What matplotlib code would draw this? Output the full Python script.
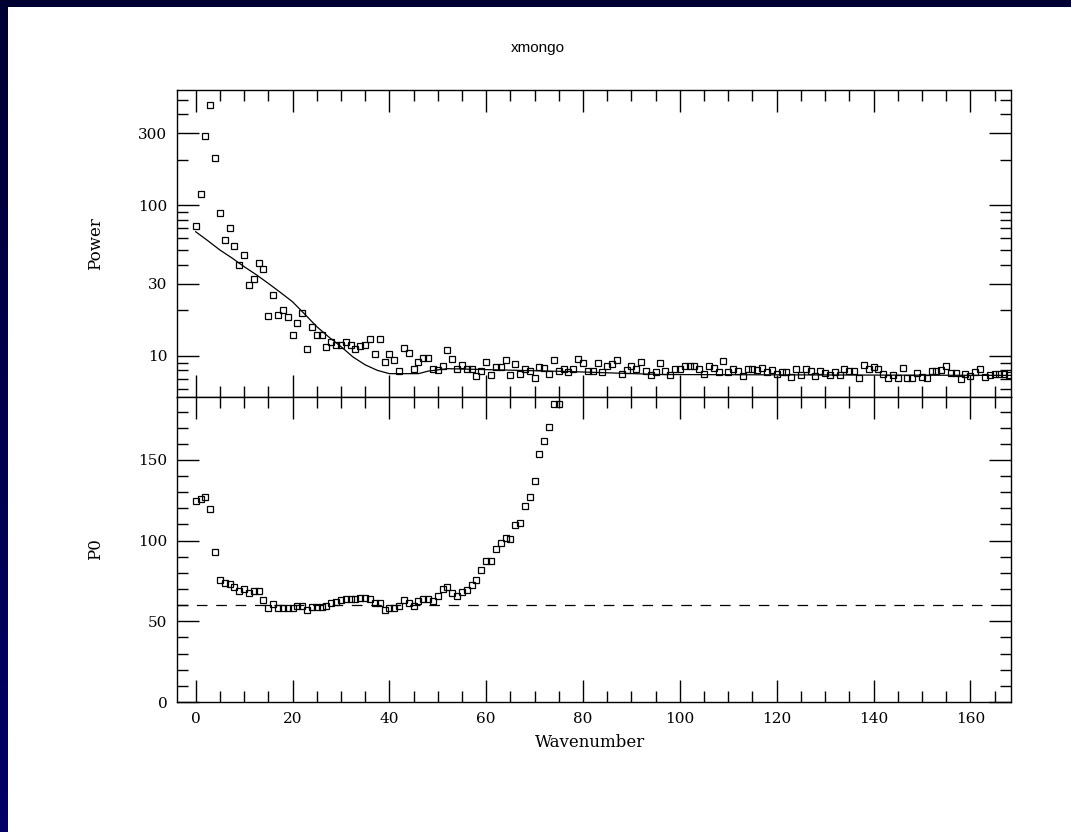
import numpy as np
import matplotlib
matplotlib.use("Agg")
import matplotlib.pyplot as plt
from matplotlib.ticker import FixedLocator, FixedFormatter, NullFormatter

# power spectrum, one value per wavenumber 0..168
power = [
    72.6, 118, 287, 461, 206, 89, 58.6, 70, 53.5, 39.8,
    46.6, 29.6, 32.1, 41.2, 37.4, 18.4, 25.3, 18.7, 20.1, 18.1,
    13.7, 16.4, 19.3, 11.1, 15.4, 13.7, 13.7, 11.5, 12.4, 11.8,
    11.8, 12.4, 11.8, 11.1, 11.6, 11.8, 13.0, 10.3, 13.0, 9.1,
    10.2, 9.3, 7.9, 11.3, 10.5, 8.2, 9.1, 9.6, 9.6, 8.2,
    8.0, 8.6, 10.9, 9.45, 8.2, 8.7, 8.15, 8.2, 7.3, 7.95,
    9.1, 7.5, 8.4, 8.4, 9.4, 7.4, 8.8, 7.6, 8.2, 7.95,
    7.1, 8.45, 8.3, 7.6, 9.4, 7.9, 8.1, 7.8, 8.1, 9.45,
    8.9, 7.95, 7.95, 8.9, 7.8, 8.6, 8.8, 9.3, 7.55, 8.0,
    8.5, 8.2, 9.1, 7.95, 7.45, 7.8, 8.9, 7.95, 7.45, 8.2,
    8.2, 8.6, 8.6, 8.6, 8.1, 7.6, 8.6, 8.3, 7.8, 9.2,
    7.8, 8.2, 7.95, 7.3, 8.1, 8.2, 8.0, 8.3, 7.8, 8.0,
    7.6, 7.8, 7.8, 7.25, 8.1, 7.5, 8.2, 7.95, 7.3, 7.95,
    7.7, 7.5, 7.8, 7.5, 8.1, 7.95, 7.95, 7.15, 8.7, 8.1,
    8.4, 8.2, 7.55, 7.15, 7.5, 7.15, 8.3, 7.15, 7.15, 7.7,
    7.25, 7.15, 7.95, 7.95, 8.0, 8.5, 7.7, 7.7, 7.05, 7.6,
    7.3, 7.8, 8.2, 7.2, 7.45, 7.55, 7.55, 7.55, 7.5,
]
wn_power = np.arange(len(power))

# model curve
fit_wn = [0, 2.5, 5, 7.5, 10, 12.5, 15, 17.5, 20, 22.5, 25, 27.5, 30, 32.5,
          35, 37.5, 40, 46, 48, 52, 77, 96, 130, 168.4]
fit_power = [66.5, 58, 50.3, 44.5, 39, 34.5, 30.2, 26.3, 22.8, 18.9, 15.6, 13.3,
             11.5, 9.8, 8.7, 8.0, 7.6, 7.6, 7.9, 8.2, 7.85, 7.5, 7.45, 7.4]

# P0 per wavenumber 0..75 (rest is off scale)
p0 = [
    124.8, 125.7, 127.3, 119.5, 93.0, 75.6, 73.5, 73.1, 71.0, 68.9,
    69.8, 67.3, 68.9, 68.9, 63.1, 58.4, 60.5, 58.0, 58.0, 58.0,
    58.0, 59.4, 59.4, 56.9, 59.0, 59.0, 59.0, 59.4, 61.5, 62.1,
    63.1, 63.6, 63.6, 63.6, 64.2, 64.2, 63.6, 61.1, 61.5, 56.9,
    58.4, 58.4, 59.4, 63.1, 61.5, 59.4, 62.5, 63.6, 63.6, 62.7,
    65.8, 69.8, 71.4, 67.3, 65.8, 68.3, 69.4, 72.5, 75.6, 81.8,
    87.4, 87.4, 94.6, 98.5, 101.9, 100.8, 109.7, 111.2, 121.5, 127.3,
    136.9, 153.6, 161.5, 170.4, 184.5, 184.5,
]
wn_p0 = np.arange(len(p0))
p0_level = 60

power_major = [10, 30, 100, 300]
power_minor = [6, 7, 8, 9, 20, 40, 50, 60, 70, 80, 90, 200, 400, 500]

SERIF = "DejaVu Serif"
W, H = 1071, 832
fig = plt.figure(figsize=(W / 100, H / 100), dpi=100, facecolor="white")

# navy window frame (top strip + left strip with a slight gradient)
top = fig.add_axes([0, 1 - 7 / H, 1, 7 / H])
top.set_axis_off()
top.add_patch(plt.Rectangle((0, 0), 1, 1, color="#000033", transform=top.transAxes))
left = fig.add_axes([0, 0, 8 / W, 1])
left.imshow(np.linspace(0, 1, 256)[:, None], aspect="auto", extent=(0, 1, 0, 1),
            cmap=matplotlib.colors.LinearSegmentedColormap.from_list("nv", ["#000033", "#000066"]))
left.set_axis_off()

L, R = 177 / W, 1011 / W
ax1 = fig.add_axes([L, 1 - 397 / H, R - L, 307 / H])
ax2 = fig.add_axes([L, 1 - 702 / H, R - L, 305 / H])

for ax in (ax1, ax2):
    ax.set_xlim(-3.86, 168.4)
    ax.xaxis.set_major_locator(FixedLocator(range(0, 170, 20)))
    ax.xaxis.set_minor_locator(FixedLocator([v for v in range(0, 170, 5) if v % 20]))
    ax.tick_params(which="both", direction="in", top=True, right=True, width=1,
                   colors="black", labelsize=11, pad=7)
    ax.tick_params(which="major", length=15.5)
    ax.tick_params(which="minor", length=8)
    for s in ax.spines.values():
        s.set_linewidth(1)

# upper panel: power, log scale
ax1.set_yscale("log")
ax1.set_ylim(5.32, 580)
ax1.plot(wn_power, power, ls="none", marker="s", ms=4.5, mfc="none", mec="black", mew=0.9)
ax1.plot(fit_wn, fit_power, color="black", lw=0.9)
ax1.yaxis.set_major_locator(FixedLocator(power_major))
ax1.yaxis.set_major_formatter(FixedFormatter([str(v) for v in power_major]))
ax1.yaxis.set_minor_locator(FixedLocator(power_minor))
ax1.yaxis.set_minor_formatter(NullFormatter())
ax1.tick_params(labelbottom=False)
ax1.set_ylabel("Power", family=SERIF, fontsize=12)
ax1.yaxis.set_label_coords(-0.088, 0.5)

# lower panel: P0
ax2.set_ylim(0, 189)
ax2.plot(wn_p0, p0, ls="none", marker="s", ms=4.5, mfc="none", mec="black", mew=0.9)
ax2.axhline(p0_level, color="black", lw=0.9, dashes=(8.5, 7))
ax2.yaxis.set_major_locator(FixedLocator([0, 50, 100, 150]))
ax2.yaxis.set_minor_locator(FixedLocator([v for v in range(0, 190, 10) if v % 50]))
ax2.set_ylabel("P0", family=SERIF, fontsize=12)
ax2.yaxis.set_label_coords(-0.088, 0.5)
ax2.set_xlabel("Wavenumber", family=SERIF, fontsize=12)
ax2.xaxis.set_label_coords(0.495, -0.105)
for lab in ax1.get_yticklabels() + ax2.get_xticklabels() + ax2.get_yticklabels():
    lab.set_fontfamily(SERIF)

fig.text(538 / W, 1 - 48 / H, "xmongo", ha="center", va="center",
         fontsize=11, family="Liberation Sans")

fig.savefig("out.png", dpi=100, facecolor="white")
